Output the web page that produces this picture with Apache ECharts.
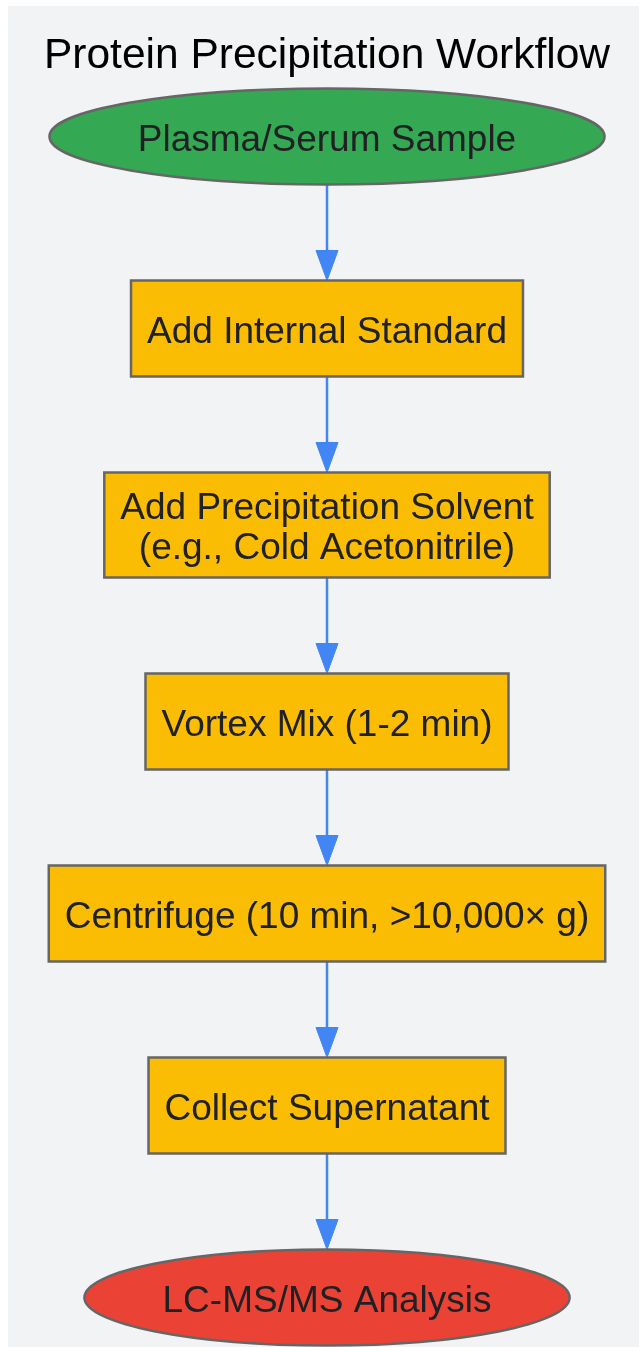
<!DOCTYPE html>
<html>
<head>
<meta charset="utf-8">
<style>html,body{margin:0;padding:0;background:#fff}#c{width:639px;height:1347px}</style>
<script src="https://cdn.jsdelivr.net/npm/echarts@6/dist/echarts.min.js"></script>
</head>
<body>
<div id="c"></div>
<script>
// ---- data ----
const chartTitle = 'Protein Precipitation Workflow';
const nodeLabels = [
  'Plasma/Serum Sample',
  'Add Internal Standard',
  'Add Precipitation Solvent\n(e.g., Cold Acetonitrile)',
  'Vortex Mix (1-2 min)',
  'Centrifuge (10 min, >10,000\u00d7 g)',
  'Collect Supernatant',
  'LC-MS/MS Analysis'
];
const nodeKinds = ['start', 'step', 'step', 'step', 'step', 'step', 'end'];
const edgeFrom = [0, 1, 2, 3, 4, 5];
const edgeTo   = [1, 2, 3, 4, 5, 6];

// ---- styles / layout ----
const W = 639, H = 1347;
const FONT_FAMILY = '"Liberation Sans", Arial, sans-serif';
const NODE_FONT = 37, LINE_H = 40, TITLE_FONT = 42.5;
const kindStyle = {
  start: { fill: '#34A853', shape: 'ellipse' },
  step:  { fill: '#FBBC04', shape: 'box' },
  end:   { fill: '#EA4335', shape: 'ellipse' }
};
const CX = 327, TOP = 88.5, GAP = 96, MIN_H = 96, PAD_X = 16, PAD_Y = 12.5, TEXT_DY = 4;

const ctx = document.createElement('canvas').getContext('2d');
ctx.font = NODE_FONT + 'px ' + FONT_FAMILY;
function textW(t) { return Math.max.apply(null, t.split('\n').map(s => ctx.measureText(s).width)); }

// layered layout (top-to-bottom), sizes from text
const nodes = [];
let yCursor = TOP;
nodeLabels.forEach((lab, i) => {
  const lines = lab.split('\n').length;
  const tw = textW(lab);
  const st = kindStyle[nodeKinds[i]];
  const h = Math.max(MIN_H, lines * LINE_H + 2 * PAD_Y);
  const w = st.shape === 'ellipse' ? tw * Math.SQRT2 + 20 : tw + 2 * PAD_X;
  nodes.push({ cx: CX, cy: yCursor + h / 2, w: w, h: h });
  yCursor += h + GAP;
});
const nodeData = nodes.map((n, i) => [n.cx, n.cy, n.w, n.h, i]);
const edgeData = edgeFrom.map((f, k) => [nodes[f].cx, nodes[f].cy + nodes[f].h / 2, nodes[edgeTo[k]].cx, nodes[edgeTo[k]].cy - nodes[edgeTo[k]].h / 2]);

const chart = echarts.init(document.getElementById('c'), null, { renderer: 'canvas' });
chart.setOption({
  animation: false,
  backgroundColor: '#ffffff',
  graphic: [
    { type: 'rect', left: 8, top: 6, shape: { width: W, height: H }, style: { fill: '#F1F3F4' }, z: -10 },
    { type: 'text', x: CX, y: 56, style: { text: chartTitle, font: TITLE_FONT + 'px ' + FONT_FAMILY, fill: '#000', align: 'center', verticalAlign: 'middle' }, z: 10 }
  ],
  grid: { left: 0, right: 0, top: 0, bottom: 0 },
  xAxis: { type: 'value', min: 0, max: W, show: false },
  yAxis: { type: 'value', min: 0, max: H, inverse: true, show: false },
  series: [
    {
      type: 'custom',
      data: edgeData,
      z: 2,
      renderItem: function (params, api) {
        const p1 = api.coord([api.value(0), api.value(1)]);
        const p2 = api.coord([api.value(2), api.value(3)]);
        const AH = 30, AW = 11;
        return {
          type: 'group',
          children: [
            { type: 'line', shape: { x1: p1[0], y1: p1[1], x2: p2[0], y2: p2[1] - AH + 2 }, style: { stroke: '#4285F4', lineWidth: 2.5 } },
            { type: 'polygon', shape: { points: [[p2[0], p2[1]], [p2[0] - AW, p2[1] - AH], [p2[0] + AW, p2[1] - AH]] }, style: { fill: '#4285F4', stroke: '#4285F4', lineWidth: 1 } }
          ]
        };
      }
    },
    {
      type: 'custom',
      data: nodeData,
      z: 3,
      renderItem: function (params, api) {
        const c = api.coord([api.value(0), api.value(1)]);
        const sz = api.size([api.value(2), api.value(3)]);
        const i = api.value(4);
        const st = kindStyle[nodeKinds[i]];
        const shapeEl = st.shape === 'ellipse'
          ? { type: 'ellipse', shape: { cx: c[0], cy: c[1], rx: sz[0] / 2, ry: sz[1] / 2 }, style: { fill: st.fill, stroke: '#666666', lineWidth: 2.5 } }
          : { type: 'rect', shape: { x: c[0] - sz[0] / 2, y: c[1] - sz[1] / 2, width: sz[0], height: sz[1] }, style: { fill: st.fill, stroke: '#666666', lineWidth: 2.5 } };
        return {
          type: 'group',
          children: [
            shapeEl,
            { type: 'text', style: { text: nodeLabels[i], x: c[0], y: c[1] + TEXT_DY, align: 'center', verticalAlign: 'middle', font: NODE_FONT + 'px ' + FONT_FAMILY, lineHeight: LINE_H, fill: '#202124' } }
          ]
        };
      }
    }
  ]
});
</script>
</body>
</html>
